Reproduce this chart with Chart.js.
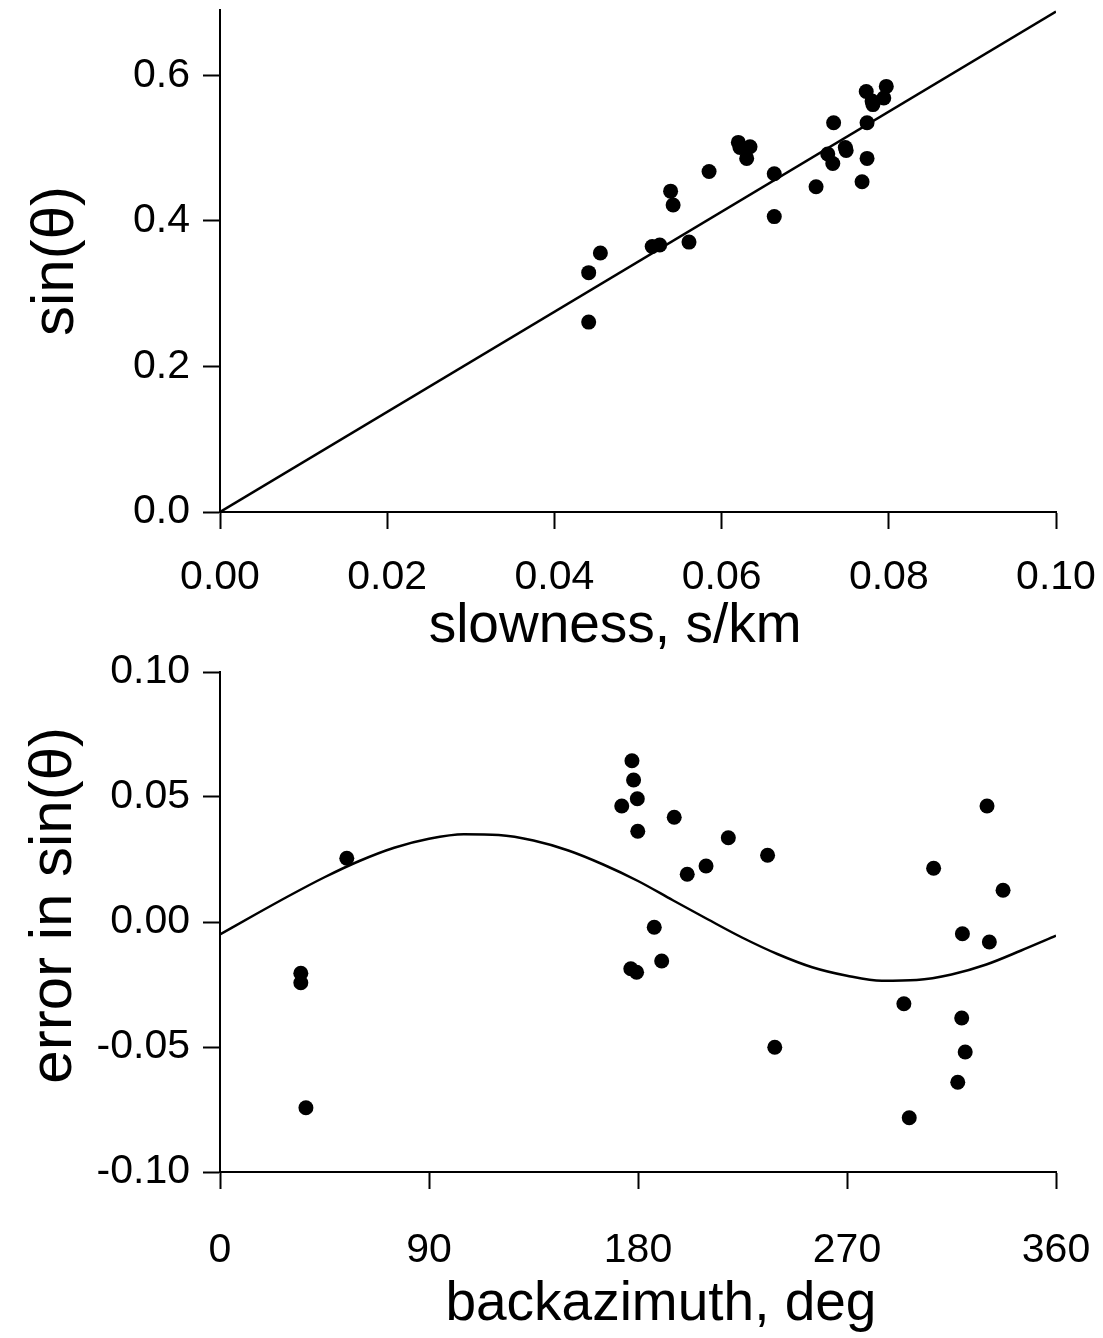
<!DOCTYPE html>
<html><head><meta charset="utf-8">
<script src="https://cdn.jsdelivr.net/npm/chart.js@4.4.1/dist/chart.umd.min.js"></script>
<style>
html,body{margin:0;padding:0;background:#fff;width:1103px;height:1338px;overflow:hidden;}
#c1{position:absolute;left:0;top:0;}
#c2{position:absolute;left:0;top:630px;}
</style></head><body>
<canvas id="c1" width="1103" height="660"></canvas>
<canvas id="c2" width="1103" height="708"></canvas>
<script>
// ---- top panel data ----
const slowness = [0.0441,0.0441,0.0455,0.0517,0.0526,0.0539,0.0542,0.0561,0.0585,0.0620,0.0622,0.0634,0.0630,0.0663,0.0663,0.0713,0.0727,0.0733,0.0734,0.0748,0.0749,0.0768,0.0774,0.0774,0.0773,0.0780,0.0781,0.0794,0.0797];
const sinTheta = [0.329,0.261,0.356,0.365,0.367,0.441,0.422,0.371,0.468,0.508,0.501,0.502,0.486,0.465,0.406,0.447,0.492,0.479,0.535,0.501,0.497,0.454,0.486,0.535,0.578,0.565,0.560,0.569,0.585];
const fitSlowness = [0, 0.10];
const fitSinTheta = [0, 0.688];
const slownessTicks = [0, 0.02, 0.04, 0.06, 0.08, 0.10];
const sinThetaTicks = [0, 0.2, 0.4, 0.6];

// ---- bottom panel data ----
const backazimuth = [34.8,34.8,37.0,54.6,177.4,178.1,179.7,173.0,179.9,195.6,218.9,235.8,209.3,201.2,187.0,190.2,176.9,179.4,238.9,307.3,337.2,319.7,331.3,294.5,319.4,320.9,330.3,317.7,296.8];
const errorSin = [-0.0205,-0.0243,-0.0743,0.0255,0.0645,0.0568,0.0493,0.0464,0.0363,0.0419,0.0337,0.0267,0.0224,0.0191,-0.0021,-0.0156,-0.0187,-0.0201,-0.0501,0.0215,0.0127,-0.0047,-0.0080,-0.0327,-0.0384,-0.0520,0.0464,-0.0641,-0.0783];
const curveAz = [0,15,30,45,60,75,90,105,120,135,150,165,180,195,210,225,240,255,270,285,300,315,330,345,360];
const curveErr = [-0.0050,0.0029,0.0106,0.0179,0.0244,0.0297,0.0333,0.0351,0.0348,0.0326,0.0286,0.0230,0.0164,0.0087,0.0011,-0.0063,-0.0128,-0.0181,-0.0215,-0.0235,-0.0232,-0.0210,-0.0170,-0.0114,-0.0055];
const azTicks = [0, 90, 180, 270, 360];
const errTicks = [-0.10, -0.05, 0, 0.05, 0.10];

const FONT = '"Liberation Sans", Arial, Helvetica, sans-serif';

function axis(o) {
  return {
    type: 'linear',
    min: o.min, max: o.max,
    afterBuildTicks: s => { s.ticks = o.ticks.map(v => ({ value: v })); },
    afterFit: s => {
      if (o.horizontal) s.height = o.size; else s.width = o.size;
      s.paddingTop = 0; s.paddingBottom = 0; s.paddingLeft = 0; s.paddingRight = 0;
    },
    grid: { display: true, drawOnChartArea: false, drawTicks: true, tickLength: 17, tickWidth: 2, tickColor: '#000' },
    border: { display: true, color: '#000', width: 2 },
    ticks: {
      color: '#000', font: { family: FONT, size: 41 }, padding: o.tickPad,
      maxRotation: 0, minRotation: 0, autoSkip: false,
      callback: v => Number(v).toFixed(o.dec)
    },
    title: { display: true, text: o.title, color: '#000', font: { family: FONT, size: o.titleSize || 55 }, padding: o.titlePad }
  };
}

function makeChart(id, pts, line, xs, ys, pad) {
  return new Chart(document.getElementById(id), {
    type: 'scatter',
    data: {
      datasets: [
        { data: pts, backgroundColor: '#000', borderColor: '#000', pointRadius: 7.5, pointBorderWidth: 0, pointHoverRadius: 7.5, showLine: false },
        { data: line, showLine: true, borderColor: '#000', borderWidth: 2.5, pointRadius: 0, fill: false, cubicInterpolationMode: 'monotone' }
      ]
    },
    options: {
      responsive: false, animation: false, devicePixelRatio: 1,
      layout: { padding: pad },
      plugins: { legend: { display: false }, tooltip: { enabled: false } },
      scales: { x: xs, y: ys }
    }
  });
}

makeChart('c1',
  slowness.map((v, i) => ({ x: v, y: sinTheta[i] })),
  fitSlowness.map((v, i) => ({ x: v, y: fitSinTheta[i] })),
  axis({ min: 0, max: 0.10, ticks: slownessTicks, dec: 2, horizontal: true, size: 148, tickPad: 24, title: 'slowness, s/km   ', titlePad: { top: 0, bottom: 0 } }),
  axis({ min: 0, max: 0.690, ticks: sinThetaTicks, dec: 1, horizontal: false, size: 220, tickPad: 13, title: 'sin(θ)', titleSize: 60, titlePad: { top: 20, bottom: 0 } }),
  { top: 10, right: 47, left: 0, bottom: 0 }
);

makeChart('c2',
  backazimuth.map((v, i) => ({ x: v, y: errorSin[i] })),
  curveAz.map((v, i) => ({ x: v, y: curveErr[i] })),
  axis({ min: 0, max: 360, ticks: azTicks, dec: 0, horizontal: true, size: 166, tickPad: 37, title: '   backazimuth, deg', titlePad: { top: 0, bottom: 0 } }),
  axis({ min: -0.10, max: 0.10, ticks: errTicks, dec: 2, horizontal: false, size: 220, tickPad: 13, title: '  error in sin(θ)', titleSize: 60, titlePad: { top: 18, bottom: 0 } }),
  { top: 42, right: 47, left: 0, bottom: 0 }
);
</script>
</body></html>
